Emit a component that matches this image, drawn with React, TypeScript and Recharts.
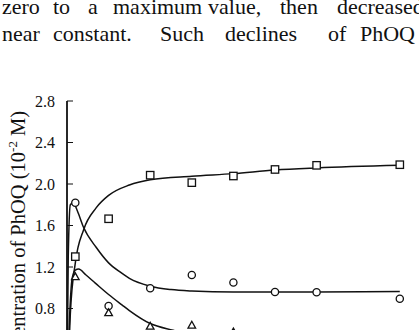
import React from 'react';
import { ComposedChart, Line, Scatter, XAxis, YAxis } from 'recharts';

// measured points
const squareTimes = [0.2, 1, 2, 3, 4, 5, 6, 8];
const squareValues = [1.3, 1.665, 2.085, 2.013, 2.077, 2.14, 2.18, 2.186];
const circleTimes = [0.2, 1, 2, 3, 4, 5, 6, 8];
const circleValues = [1.82, 0.824, 0.995, 1.123, 1.05, 0.959, 0.956, 0.894];
const triangleTimes = [0.2, 1, 2, 3, 4];
const triangleValues = [1.107, 0.76, 0.63, 0.64, 0.575];

// fitted curves
const squareCurveTimes = [0, 0.04, 0.08, 0.2, 0.4, 0.7, 1, 1.5, 2, 3, 4, 5, 6, 8];
const squareCurveValues = [0, 0.35, 0.75, 1.24, 1.56, 1.77, 1.89, 1.99, 2.04, 2.075, 2.1, 2.135, 2.155, 2.18];
const circleCurveTimes = [0, 0.03, 0.08, 0.15, 0.25, 0.4, 0.7, 1, 1.3, 1.5, 2, 2.5, 3, 4, 5, 6, 8];
const circleCurveValues = [0, 1.3, 1.8, 1.82, 1.74, 1.58, 1.39, 1.24, 1.145, 1.09, 1.015, 0.982, 0.968, 0.958, 0.958, 0.96, 0.965];
const triangleCurveTimes = [0, 0.06, 0.12, 0.2, 0.28, 0.45, 0.68, 1, 1.32, 1.5, 2, 2.55, 3, 4, 5, 6, 8];
const triangleCurveValues = [0, 0.7, 1.08, 1.17, 1.18, 1.125, 1.045, 0.935, 0.835, 0.78, 0.655, 0.59, 0.545, 0.47, 0.42, 0.39, 0.35];

const yTicks = [0.8, 1.2, 1.6, 2.0, 2.4, 2.8];
const xTicks = [0, 1, 2, 3, 4, 5, 6, 7, 8, 9, 10];

const line1Words = ['zero', 'to', 'a', 'maximum', 'value,', 'then', 'decreased'];
const line2Words = ['near', 'constant.', 'Such', 'declines', 'of', 'PhOQ'];
const line1X = [2, 53, 88, 113, 208, 280, 337];
const line2X = [2, 53, 160, 225, 328, 360];

const zip = (xs: number[], ys: number[]) => xs.map((x, i) => ({ x, y: ys[i] }));

const squares = zip(squareTimes, squareValues);
const circles = zip(circleTimes, circleValues);
const triangles = zip(triangleTimes, triangleValues);
const squareCurve = zip(squareCurveTimes, squareCurveValues);
const circleCurve = zip(circleCurveTimes, circleCurveValues);
const triangleCurve = zip(triangleCurveTimes, triangleCurveValues);

const ink = '#111';

const SquareShape = (p: any) => (
  <rect x={p.cx - 3.7} y={p.cy - 3.7} width={7.4} height={7.4} fill="#fff" stroke={ink} strokeWidth={1.3} />
);
const CircleShape = (p: any) => (
  <circle cx={p.cx} cy={p.cy} r={3.6} fill="#fff" stroke={ink} strokeWidth={1.3} />
);
const TriangleShape = (p: any) => (
  <polygon
    points={`${p.cx},${p.cy - 3.8} ${p.cx + 3.8},${p.cy + 3} ${p.cx - 3.8},${p.cy + 3}`}
    fill="#fff"
    stroke={ink}
    strokeWidth={1.3}
  />
);

const serif = '"Liberation Serif", "Times New Roman", serif';

export default function App() {
  return (
    <div
      style={{
        position: 'fixed',
        left: 0,
        top: 0,
        width: 419,
        height: 330,
        overflow: 'hidden',
        background: '#fff',
      }}
    >
      <div style={{ position: 'absolute', left: 0, top: 0 }}>
        <ComposedChart
          width={500}
          height={441}
          margin={{ top: 101, right: 17, bottom: 19.5, left: 0 }}
        >
          <XAxis
            dataKey="x"
            type="number"
            domain={[0, 10]}
            ticks={xTicks}
            height={30}
            axisLine={{ stroke: ink, strokeWidth: 1.5 }}
            tickLine={{ stroke: ink }}
            tick={false}
          />
          <XAxis
            xAxisId="top"
            dataKey="x"
            type="number"
            domain={[0, 10]}
            orientation="top"
            height={0}
            tick={false}
            tickLine={false}
            axisLine={{ stroke: ink, strokeWidth: 1.5 }}
          />
          <YAxis
            dataKey="y"
            type="number"
            domain={[0, 2.8]}
            ticks={yTicks}
            width={67}
            tickFormatter={(v: number) => v.toFixed(1)}
            axisLine={{ stroke: ink, strokeWidth: 1.8 }}
            tickLine={{ stroke: ink, strokeWidth: 1 }}
            tickSize={-6}
            tickMargin={18}
            tick={{ fill: ink, fontSize: 16, fontFamily: serif }}
          />
          <Line data={squareCurve} dataKey="y" type="monotone" dot={false} stroke={ink} strokeWidth={1.5} isAnimationActive={false} />
          <Line data={circleCurve} dataKey="y" type="monotone" dot={false} stroke={ink} strokeWidth={1.5} isAnimationActive={false} />
          <Line data={triangleCurve} dataKey="y" type="monotone" dot={false} stroke={ink} strokeWidth={1.5} isAnimationActive={false} />
          <Scatter data={squares} dataKey="y" shape={SquareShape} isAnimationActive={false} />
          <Scatter data={circles} dataKey="y" shape={CircleShape} isAnimationActive={false} />
          <Scatter data={triangles} dataKey="y" shape={TriangleShape} isAnimationActive={false} />
        </ComposedChart>
      </div>
      <svg
        width={419}
        height={330}
        style={{ position: 'absolute', left: 0, top: 0, pointerEvents: 'none' }}
      >
        <text y={13.5} fontFamily={serif} fontSize={22} fill={ink}>
          {line1Words.map((w, i) => (
            <tspan key={i} x={line1X[i]}>{w}</tspan>
          ))}
        </text>
        <text y={41} fontFamily={serif} fontSize={22} fill={ink}>
          {line2Words.map((w, i) => (
            <tspan key={i} x={line2X[i]}>{w}</tspan>
          ))}
        </text>
        <text
          transform="translate(25,245) rotate(-90)"
          textAnchor="middle"
          fontFamily={serif}
          fontSize={20.5}
          fill={ink}
        >
          Concentration of PhOQ (10
          <tspan fontSize={13} dy={-8}>-2</tspan>
          <tspan dy={8}> M)</tspan>
        </text>
      </svg>
    </div>
  );
}
